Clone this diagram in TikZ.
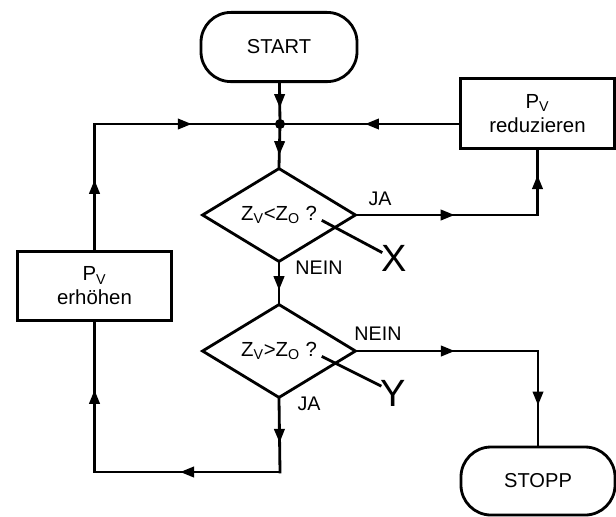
\documentclass[tikz,border=0pt]{standalone}
\usepackage{fontspec}
\setmainfont{Liberation Sans}
\usetikzlibrary{shapes.geometric,decorations.markings}

\tikzset{
  flow/.style={line width=2pt, line cap=rect},
  terminal/.style={draw, line width=2pt, rounded corners=0.75cm, minimum width=3.9cm, minimum height=1.73cm, font=\fontsize{14.3}{17}\selectfont},
  action/.style={draw, line width=2pt, minimum width=3.85cm, minimum height=1.73cm, align=center, font=\fontsize{14.5}{17}\selectfont},
  decision/.style={draw, diamond, line width=2pt, minimum width=3.85cm, minimum height=2.35cm, inner sep=0pt, font=\fontsize{14.5}{17}\selectfont},
  midarrow/.style={postaction={decorate}, decoration={markings, mark=at position 0.5 with {\fill (-1.7mm,-1.4mm) -- (1.7mm,0) -- (-1.7mm,1.4mm) -- cycle;}}},
  answer/.style={font=\fontsize{14}{16}\selectfont, inner sep=0pt},
  marker/.style={font=\fontsize{27}{30}\selectfont, inner sep=0pt},
}

\begin{document}
\begin{tikzpicture}[x=0.025cm, y=-0.025cm]
  \useasboundingbox (0,0) rectangle (616,516);

  % boxes
  \node[terminal] (start) at (279,47) {START};
  \node[action] (red) at (537.5,113.5) {P\textsubscript{V}\\reduzieren};
  \node[decision] (d1) at (279,215) {Z\textsubscript{V}<Z\textsubscript{O} ?};
  \node[decision] (d2) at (279,351) {Z\textsubscript{V}>Z\textsubscript{O} ?};
  \node[action] (erh) at (94.5,286) {P\textsubscript{V}\\erhöhen};
  \node[terminal, minimum width=3.85cm, minimum height=1.7cm] (stopp) at (538,481) {STOPP};
  \node[circle, fill, inner sep=0pt, minimum size=0.25cm] (jn) at (280,124) {};

  % corners of the loops
  \coordinate (lowR) at (280,472);
  \coordinate (lowL) at (erh.south |- lowR);
  \coordinate (upL) at (erh.north |- jn);

  % main line
  \draw[flow, midarrow] (start) -- (jn);
  \draw[flow, midarrow] (jn) -- (d1.north);
  \draw[flow, midarrow] (d1.south) -- (d2.north);

  % JA branch to reduzieren
  \draw[flow, midarrow] (d1.east) -- (d1.east -| red.south);
  \draw[flow, midarrow] (d1.east -| red.south) -- (red.south);
  \draw[flow, midarrow] (red.west |- jn) -- (jn);

  % NEIN branch to STOPP
  \draw[flow, midarrow] (d2.east) -- (d2.east -| stopp.north);
  \draw[flow, midarrow] (d2.east -| stopp.north) -- (stopp.north);

  % JA branch back through erhoehen
  \draw[flow, midarrow] (d2.south) -- (lowR);
  \draw[flow, midarrow] (lowR) -- (lowL);
  \draw[flow, midarrow] (lowL) -- (erh.south);
  \draw[flow, midarrow] (erh.north) -- (upL);
  \draw[flow, midarrow] (upL) -- (jn);

  % answers
  \node[answer] at (380,199) {JA};
  \node[answer] at (319,268) {NEIN};
  \node[answer] at (378,334) {NEIN};
  \node[answer] at (309,404) {JA};

  % markers X and Y
  \node[marker] (xmark) at (394,258) {X};
  \node[marker] (ymark) at (393,393) {Y};
  \coordinate (xfoot) at (323,221);
  \coordinate (yfoot) at (323,357);
  \draw[flow] (xfoot) -- (xmark.155);
  \draw[flow] (yfoot) -- (ymark.150);
\end{tikzpicture}
\end{document}
